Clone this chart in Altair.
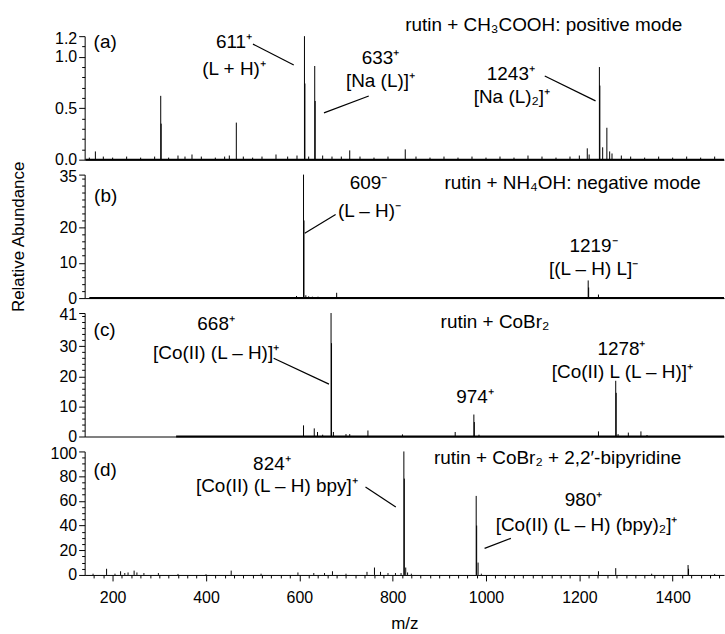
import altair as alt
import pandas as pd

FONT = "Liberation Sans"
X_DOMAIN = [140, 1510]
W, H = 642, 124

# ---------------- panel (a): rutin + CH3COOH, positive mode ----------------
a_mz = [163, 303, 304, 465, 550, 611, 612, 633, 634, 708, 827, 1217, 1221,
        1243, 1244, 1250, 1259, 1265, 1270]
a_ab = [0.08, 0.62, 0.35, 0.36, 0.05, 1.20, 0.74, 0.91, 0.57, 0.09, 0.10, 0.11, 0.05,
        0.90, 0.72, 0.12, 0.31, 0.08, 0.06]
a_noise_mz = [150, 180, 200, 230, 260, 290, 320, 340, 355, 370, 390, 420, 440, 450,
              480, 500, 520, 575, 595, 620, 650, 670, 690, 730, 760, 790, 850, 880,
              910, 940, 970, 1000, 1030, 1060, 1090, 1120, 1150, 1180, 1200, 1290,
              1310, 1340, 1370, 1400, 1430, 1460, 1490]
a_noise_ab = [0.02, 0.03, 0.02, 0.03, 0.02, 0.03, 0.02, 0.04, 0.03, 0.05, 0.03, 0.02,
              0.03, 0.04, 0.03, 0.02, 0.03, 0.03, 0.04, 0.03, 0.04, 0.03, 0.03, 0.03,
              0.02, 0.03, 0.03, 0.02, 0.03, 0.02, 0.03, 0.02, 0.03, 0.02, 0.04, 0.03,
              0.02, 0.03, 0.04, 0.04, 0.03, 0.02, 0.03, 0.02, 0.03, 0.02, 0.03]
a_base = [142, 1510]
a_txt = ["(a)", "611⁺", "(L + H)⁺", "633⁺", "[Na (L)]⁺", "1243⁺", "[Na (L)₂]⁺",
         "rutin + CH₃COOH: positive mode"]
a_tx = [159.2, 460.1, 460.1, 773.8, 773.8, 1053.3, 1055.5, 1123.8]
a_ty = [1.142, 1.142, 0.881, 0.987, 0.764, 0.832, 0.61, 1.306]
a_al = ["left", "center", "center", "center", "center", "center", "center", "center"]
a_lx, a_ly = [500.6, 652.8, 1125.9], [1.123, 0.455, 0.813]
a_lx2, a_ly2 = [588.1, 748.8, 1234.7], [0.919, 0.619, 0.571]
a_ticks = [0.0, 0.1, 0.2, 0.3, 0.4, 0.5, 0.6, 0.7, 0.8, 0.9, 1.0, 1.1, 1.2]
a_labels = [0.0, 0.5, 1.0, 1.2]

# ---------------- panel (b): rutin + NH4OH, negative mode ----------------
b_mz = [594, 609, 610, 614, 620, 628, 640, 652, 680, 1219, 1220, 1241]
b_ab = [0.6, 35, 22, 0.8, 0.5, 0.4, 0.4, 0.3, 1.5, 5.0, 3.0, 1.0]
b_base = [150, 1510]
b_txt = ["(b)", "609⁻", "(L – H)⁻", "rutin + NH₄OH: negative mode", "1219⁻", "[(L – H) L]⁻"]
b_tx = [160.3, 748.2, 750.3, 1185.6, 1230.5, 1230.5]
b_ty = [28.8, 32.5, 24.8, 32.7, 14.8, 8.2]
b_al = ["left", "center", "center", "center", "center", "center"]
b_lx, b_ly = [611.6], [18.35]
b_lx2, b_ly2 = [677.8], [23.71]
b_ticks = [0, 2, 4, 6, 8, 10, 12, 14, 16, 18, 20, 22, 24, 26, 28, 30, 32, 34, 35]
b_labels = [0, 10, 20, 35]

# ---------------- panel (c): rutin + CoBr2 ----------------
c_mz = [609, 632, 639, 650, 668, 669, 673, 700, 708, 747, 821, 934, 974, 975, 985,
        1241, 1278, 1279, 1283, 1305, 1332, 1345]
c_ab = [3.7, 2.7, 1.5, 0.6, 41, 31, 1.5, 0.8, 0.8, 2.0, 0.7, 1.5, 7.3, 4.8, 0.6,
        1.7, 18.5, 14.5, 0.8, 1.3, 1.7, 0.5]
c_base = [336, 1510]
c_txt = ["(c)", "668⁺", "[Co(II) (L – H)]⁺", "rutin + CoBr₂", "1278⁺",
         "[Co(II) L (L – H)]⁺", "974⁺"]
c_tx = [159.2, 421.7, 421.7, 1019.2, 1290.2, 1292.3, 976.5]
c_ty = [35.4, 37.4, 27.8, 38.0, 29.1, 21.5, 13.2]
c_al = ["left", "center", "center", "center", "center", "center", "center"]
c_lx, c_ly = [545.0], [26.0]
c_lx2, c_ly2 = [663.5], [17.4]
c_ticks = [0, 2, 4, 6, 8, 10, 12, 14, 16, 18, 20, 22, 24, 26, 28, 30, 32, 34, 36, 38, 40, 41]
c_labels = [0, 10, 20, 30, 41]

# ---------------- panel (d): rutin + CoBr2 + 2,2'-bipyridine ----------------
d_mz = [158, 187, 205, 217, 226, 233, 246, 252, 267, 298, 340, 400, 454, 518, 597,
        631, 654, 671, 700, 745, 761, 774, 790, 806, 818, 824, 825, 828, 832, 840,
        979, 980, 983, 990, 1241, 1278, 1355, 1433, 1434, 1490]
d_ab = [1, 5, 1, 3, 1.5, 2, 3.5, 2, 1.5, 1.5, 0.8, 0.6, 3.5, 1, 2,
        1.5, 1.5, 3, 1, 2.5, 6, 2.5, 1.5, 1.5, 1.5, 100, 78, 6, 2, 1,
        64, 40, 10, 1, 3, 5.5, 1, 8, 5, 0.8]
d_txt = ["(d)", "824⁺", "[Co(II) (L – H) bpy]⁺", "rutin + CoBr₂ + 2,2′-bipyridine",
         "980⁺", "[Co(II) (L – H) (bpy)₂]⁺"]
d_tx = [159.2, 541.2, 551.9, 1153.6, 1209.1, 1215.5]
d_ty = [84.7, 89.5, 71.8, 94.4, 60.5, 40.3]
d_al = ["left", "center", "center", "center", "center", "center"]
d_lx, d_ly = [741.8, 997.0], [71.2, 21.5]
d_lx2, d_ly2 = [806.7, 1053.3], [55.1, 29.6]
d_ticks = [0, 5, 10, 15, 20, 25, 30, 35, 40, 45, 50, 55, 60, 65, 70, 75, 80, 85, 90, 95, 100]
d_labels = [0, 20, 40, 60, 80, 100]

x_ticks = list(range(160, 1501, 20))
x_labels = [200, 400, 600, 800, 1000, 1200, 1400]


def in_list(vals):
    return " || ".join(f"abs(datum.value - {v}) < 1e-6" for v in vals)


def x_axis(show):
    if show:
        test = in_list(x_labels)
        return alt.Axis(values=x_ticks, title="m/z", format="d",
                        labelExpr=f"({test}) ? datum.label : ''",
                        tickSize={"condition": {"test": test, "value": 6}, "value": 3},
                        labelPadding=9, titlePadding=10, grid=False, labelFlush=False)
    return alt.Axis(labels=False, ticks=False, title=None, grid=False)


def y_axis(ticks, labels, fmt, title=None):
    test = in_list(labels)
    top = labels[-1]
    kw = dict(values=ticks, format=fmt, labelExpr=f"({test}) ? datum.label : ''",
              tickSize={"condition": {"test": test, "value": 6}, "value": 3},
              labelOffset={"condition": {"test": f"abs(datum.value - {top}) < 1e-6",
                                         "value": 2}, "value": 0},
              labelPadding=2, grid=False, labelFlush=False)
    if title:
        kw.update(title=title, titleX=-57, titleFontSize=17, titleFontWeight="normal")
    else:
        kw.update(title=None)
    return alt.Axis(**kw)


def panel(mz, ab, base, txt, tx, ty, al, lx, ly, lx2, ly2, ydom, yticks, ylabels, fmt,
          show_x=False, ytitle=None, noise=None):
    xs = alt.Scale(domain=X_DOMAIN, nice=False, zero=False)
    ys = alt.Scale(domain=ydom, nice=False)
    xa = x_axis(show_x)
    ya = y_axis(yticks, ylabels, fmt, ytitle)
    peaks = pd.DataFrame({"mz": mz, "ab": ab})
    if noise is not None:
        peaks = pd.concat([peaks, pd.DataFrame({"mz": noise[0], "ab": noise[1]})])
    peaks["zero"] = 0.0
    layers = []
    stick = alt.Chart(peaks).mark_rule(color="black", strokeWidth=1).encode(
        x=alt.X("mz:Q", scale=xs, axis=xa),
        y=alt.Y("zero:Q", scale=ys, axis=ya),
        y2="ab:Q")
    layers.append(stick)
    if base is not None:
        bdf = pd.DataFrame({"x1": [base[0]], "x2": [base[1]], "y": [0.0]})
        layers.append(alt.Chart(bdf).mark_rule(color="black", strokeWidth=2).encode(
            x=alt.X("x1:Q", scale=xs, axis=xa), x2="x2:Q",
            y=alt.Y("y:Q", scale=ys, axis=ya)))
    ldf = pd.DataFrame({"x1": lx, "y1": ly, "x2": lx2, "y2": ly2})
    layers.append(alt.Chart(ldf).mark_rule(color="black", strokeWidth=1.2).encode(
        x=alt.X("x1:Q", scale=xs, axis=xa), x2="x2:Q",
        y=alt.Y("y1:Q", scale=ys, axis=ya), y2="y2:Q"))
    tdf = pd.DataFrame({"t": txt, "x": tx, "y": ty, "al": al})
    for a in ["left", "center"]:
        sub = tdf[tdf["al"] == a]
        if len(sub) == 0:
            continue
        layers.append(alt.Chart(sub).mark_text(
            align=a, baseline="middle", font=FONT, fontSize=19, color="black").encode(
            x=alt.X("x:Q", scale=xs, axis=xa),
            y=alt.Y("y:Q", scale=ys, axis=ya),
            text="t:N"))
    return alt.layer(*layers).properties(width=W, height=H)


pa = panel(a_mz, a_ab, a_base, a_txt, a_tx, a_ty, a_al, a_lx, a_ly, a_lx2, a_ly2,
           [0, 1.2], a_ticks, a_labels, ".1f", noise=(a_noise_mz, a_noise_ab))
pb = panel(b_mz, b_ab, b_base, b_txt, b_tx, b_ty, b_al, b_lx, b_ly, b_lx2, b_ly2,
           [0, 35], b_ticks, b_labels, "d", ytitle="Relative Abundance")
pc = panel(c_mz, c_ab, c_base, c_txt, c_tx, c_ty, c_al, c_lx, c_ly, c_lx2, c_ly2,
           [0, 41], c_ticks, c_labels, "d")
pd_ = panel(d_mz, d_ab, None, d_txt, d_tx, d_ty, d_al, d_lx, d_ly, d_lx2, d_ly2,
            [0, 100], d_ticks, d_labels, "d", show_x=True)

chart = alt.vconcat(pa, pb, pc, pd_, spacing=15).properties(
    bounds="flush",
    padding={"left": 10, "top": 15, "right": 0, "bottom": 5},
).configure_view(stroke=None).configure_axis(
    labelFont=FONT, titleFont=FONT, labelFontSize=16, titleFontSize=17,
    labelColor="black", titleColor="black", tickColor="black", domainColor="black",
    titleFontWeight="normal", domainWidth=1, tickWidth=1,
)

chart.save("out.html", embed_options={"renderer": "svg", "actions": False})
